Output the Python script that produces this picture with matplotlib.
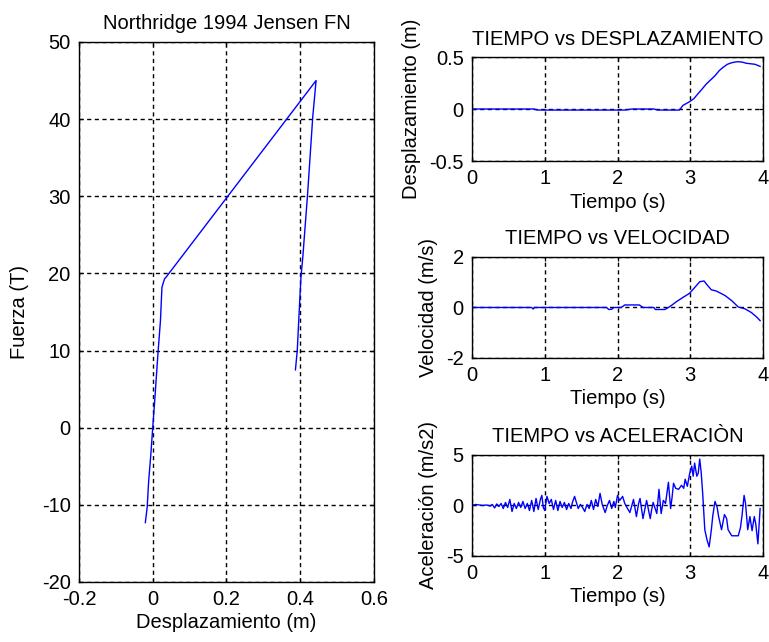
import matplotlib
matplotlib.use("Agg")
import matplotlib.pyplot as plt

plt.rcParams['font.family'] = ['Liberation Sans', 'DejaVu Sans']
plt.rcParams['font.size'] = 14

# curva fuerza - desplazamiento
hist_desp = [-0.020, -0.015, -0.011, -0.005, 0.0, 0.006, 0.014, 0.021, 0.025, 0.032,
             0.036, 0.443, 0.434, 0.420, 0.407, 0.402, 0.396, 0.392, 0.387]
hist_fuerza = [-12.3, -10.3, -6.9, -3.4, 0.0, 3.9, 9.5, 13.9, 18.2, 19.3,
               19.5, 45.0, 40.3, 30.3, 22.1, 19.5, 13.9, 10.0, 7.5]

# tiempo vs desplazamiento
t_desp = [0, 0.85, 0.9, 1.5, 2.1, 2.2, 2.5, 2.55, 2.85, 2.9, 2.99, 3.05, 3.11, 3.16,
          3.22, 3.28, 3.34, 3.40, 3.45, 3.51, 3.57, 3.62, 3.66, 3.72, 3.77, 3.83,
          3.89, 3.96]
desp = [0, 0, -0.01, -0.01, -0.01, 0.0, 0.0, -0.01, -0.01, 0.035, 0.07, 0.1, 0.15,
        0.19, 0.24, 0.28, 0.32, 0.37, 0.40, 0.43, 0.445, 0.452, 0.455, 0.45, 0.44,
        0.435, 0.43, 0.41]

# tiempo vs velocidad
t_vel = [0, 0.82, 0.84, 0.86, 0.88, 1.85, 1.88, 1.92, 1.95, 2.05, 2.1, 2.3, 2.35,
         2.5, 2.52, 2.65, 2.7, 2.75, 2.81, 2.9, 2.99, 3.07, 3.13, 3.19, 3.23, 3.29,
         3.36, 3.48, 3.57, 3.66, 3.75, 3.84, 3.91, 3.96]
vel = [0, 0, -0.06, 0, 0, 0, -0.08, -0.07, 0, 0, 0.1, 0.1, 0.0, 0.0, -0.08, -0.08,
       0.0, 0.1, 0.23, 0.4, 0.56, 0.82, 1.02, 1.05, 0.9, 0.7, 0.65, 0.47, 0.27,
       0.02, -0.05, -0.2, -0.37, -0.52]

# tiempo vs aceleracion
t_acel = [0.00, 0.05, 0.10, 0.15, 0.20, 0.25, 0.28, 0.31, 0.34, 0.37, 0.40, 0.43,
          0.46, 0.49, 0.52, 0.55, 0.58, 0.61, 0.64, 0.67, 0.70, 0.73, 0.76, 0.79,
          0.82, 0.85, 0.88, 0.91, 0.94, 0.96, 0.98, 1.00, 1.03, 1.06, 1.09, 1.12,
          1.15, 1.18, 1.21, 1.24, 1.27, 1.30, 1.33, 1.36, 1.38, 1.41, 1.44, 1.46,
          1.49, 1.52, 1.55, 1.58, 1.61, 1.64, 1.67, 1.70, 1.73, 1.76, 1.79, 1.83,
          1.86, 1.89, 1.92, 1.95, 1.97, 2.00, 2.03, 2.07, 2.10, 2.13, 2.17, 2.20,
          2.22, 2.26, 2.29, 2.31, 2.35, 2.38, 2.40, 2.45, 2.47, 2.49, 2.54, 2.57,
          2.60, 2.63, 2.66, 2.70, 2.73, 2.75, 2.77, 2.80, 2.84, 2.88, 2.91, 2.93,
          2.96, 2.99, 3.02, 3.04, 3.06, 3.09, 3.11, 3.13, 3.15, 3.17, 3.20, 3.23,
          3.26, 3.29, 3.31, 3.34, 3.37, 3.39, 3.43, 3.47, 3.50, 3.52, 3.57, 3.66,
          3.69, 3.71, 3.74, 3.76, 3.79, 3.82, 3.85, 3.88, 3.90, 3.93, 3.96]
acel = [0.0, 0.1, 0.05, 0.0, 0.05, -0.05, 0.1, -0.25, 0.15, -0.1, 0.2, -0.3,
        0.3, -0.2, 0.6, -0.6, 0.2, -0.3, 0.3, -0.2, 0.4, -0.3, 0.2, -0.5,
        0.5, -0.6, 0.7, -0.4, 0.6, 1.0, -0.2, -0.5, 0.9, 0.2, 0.6, -0.4,
        0.5, -0.5, 0.4, -0.2, 0.3, -0.4, 0.2, -0.3, 0.3, 0.9, 0.2, -0.3,
        0.1, -0.2, -0.6, 0.1, -0.3, 0.5, -0.4, 0.6, -0.1, 1.2, 0.1, -0.7,
        0.0, 0.5, -0.3, 0.4, -0.2, 1.0, 0.5, 0.9, 0.2, -0.2, -0.7, 0.1,
        0.6, -1.1, 0.2, 0.7, -1.3, -0.2, 0.5, -1.3, -0.4, 0.3, -0.8, 1.6,
        -0.8, 0.5, 0.2, 2.3, -0.3, 0.8, 2.2, 1.7, 1.6, 2.0, 1.7, 2.6,
        1.9, 3.1, 3.9, 2.9, 4.2, 2.9, 3.2, 4.6, 3.3, 1.3, -2.4, -3.4,
        -4.1, -2.4, -1.0, 0.4, -0.2, -1.1, -2.4, -0.9, -1.3, -2.4, -3.0, -3.0,
        -2.2, -1.1, 1.0, 0.2, -2.4, -1.1, -2.5, -1.1, -1.8, -3.8, -0.3]

t_ticks = [0, 1, 2, 3, 4]
t_labels = ['0', '1', '2', '3', '4']


def estilo(ax, xt, xl, yt, yl):
    ax.set_xticks(xt)
    ax.set_xticklabels(xl)
    ax.set_yticks(yt)
    ax.set_yticklabels(yl)
    ax.set_xlim(xt[0], xt[-1])
    ax.set_ylim(yt[0], yt[-1])
    ax.grid(True, color='black', linestyle=(0, (3, 2.5)), linewidth=1.0)
    ax.tick_params(direction='in', length=3, pad=6, top=True, right=True,
                   labelsize=14.5, width=0.9)
    for s in ax.spines.values():
        s.set_linewidth(1.0)


fig = plt.figure(figsize=(7.69, 6.42), dpi=100)

ax1 = fig.add_axes([0.1027, 0.0935, 0.3836, 0.8411])
ax1.plot(hist_desp, hist_fuerza, color='blue', linewidth=1.0)
estilo(ax1, [-0.2, 0, 0.2, 0.4, 0.6], ['-0.2', '0', '0.2', '0.4', '0.6'],
       [-20, -10, 0, 10, 20, 30, 40, 50], ['-20', '-10', '0', '10', '20', '30', '40', '50'])
ax1.set_title('Northridge 1994 Jensen FN', fontsize=14.5, pad=9)
ax1.set_xlabel('Desplazamiento (m)', fontsize=14.5, labelpad=3)
ax1.set_ylabel('Fuerza (T)', fontsize=14.5, labelpad=9)

ax2 = fig.add_axes([0.6138, 0.7492, 0.3784, 0.162])
ax2.plot(t_desp, desp, color='blue', linewidth=1.0)
estilo(ax2, t_ticks, t_labels, [-0.5, 0, 0.5], ['-0.5', '0', '0.5'])
ax2.set_title('TIEMPO vs DESPLAZAMIENTO', fontsize=14.5, pad=9)
ax2.set_xlabel('Tiempo (s)', fontsize=14.5, labelpad=3)
ax2.set_ylabel('Desplazamiento (m)', fontsize=14.5, labelpad=6)

ax3 = fig.add_axes([0.6138, 0.4424, 0.3784, 0.1573])
ax3.plot(t_vel, vel, color='blue', linewidth=1.0)
estilo(ax3, t_ticks, t_labels, [-2, 0, 2], ['-2', '0', '2'])
ax3.set_title('TIEMPO vs VELOCIDAD', fontsize=14.5, pad=9)
ax3.set_xlabel('Tiempo (s)', fontsize=14.5, labelpad=3)
ax3.set_ylabel('Velocidad (m/s)', fontsize=14.5, labelpad=6)

ax4 = fig.add_axes([0.6138, 0.1340, 0.3784, 0.1573])
ax4.plot(t_acel, acel, color='blue', linewidth=1.0)
estilo(ax4, t_ticks, t_labels, [-5, 0, 5], ['-5', '0', '5'])
ax4.set_title('TIEMPO vs ACELERACIÒN', fontsize=14.5, pad=9)
ax4.set_xlabel('Tiempo (s)', fontsize=14.5, labelpad=3)
ax4.set_ylabel('Aceleración (m/s2)', fontsize=14.5, labelpad=6)

fig.savefig('out.png', dpi=100)
